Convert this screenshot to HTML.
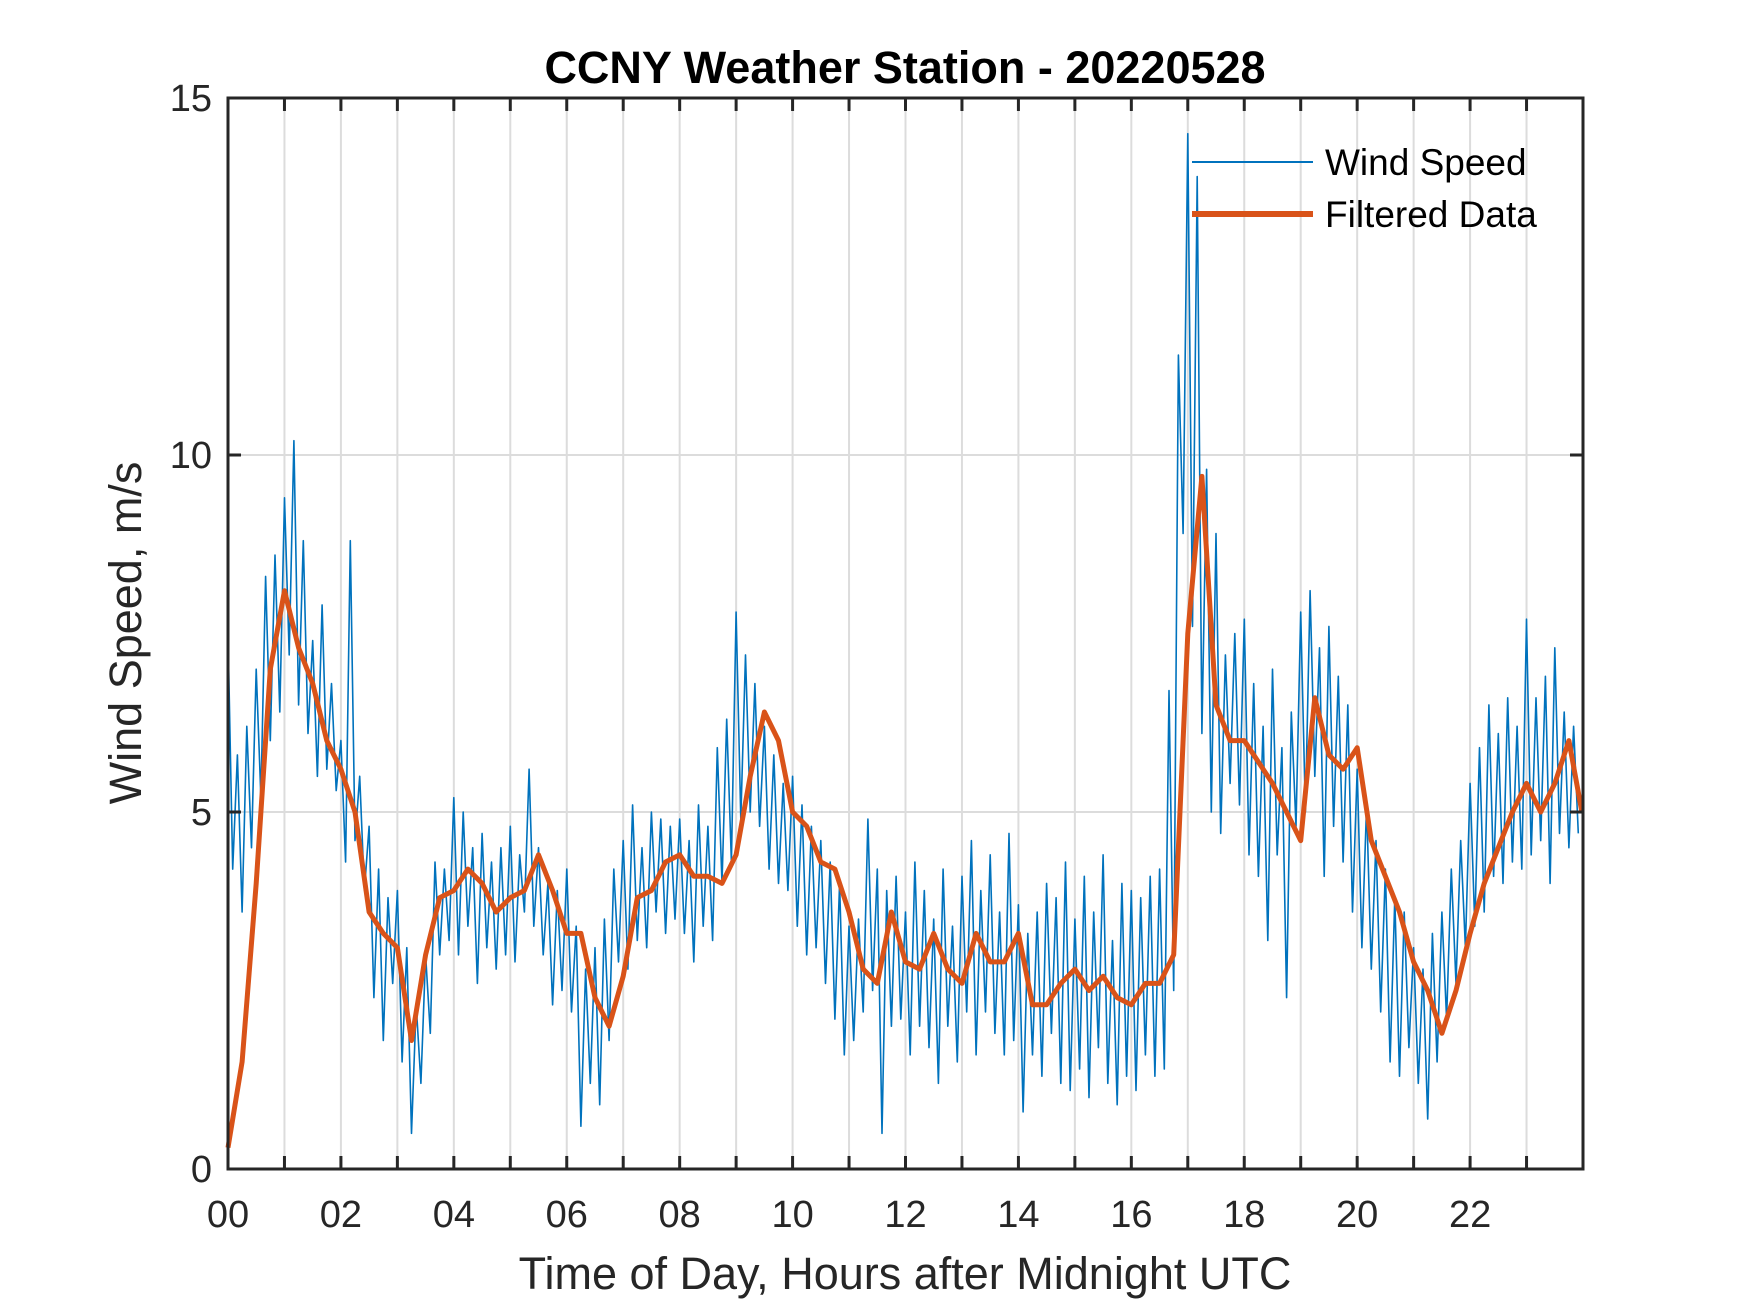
<!DOCTYPE html>
<html><head><meta charset="utf-8"><style>
html,body{margin:0;padding:0;background:#fff;}
svg{display:block;font-family:"Liberation Sans",Arial,sans-serif;}
</style></head><body>
<svg id="chart" width="1750" height="1313" viewBox="0 0 1750 1313" xmlns="http://www.w3.org/2000/svg">
<rect width="1750" height="1313" fill="#fff"/>
<g id="grid"></g>
<g id="series"></g>
<g id="axes"></g>
<text x="905" y="83" text-anchor="middle" font-size="45" font-weight="bold" fill="#000">CCNY Weather Station - 20220528</text>
<text x="905" y="1289" text-anchor="middle" font-size="45" fill="#262626">Time of Day, Hours after Midnight UTC</text>
<text transform="translate(141,633) rotate(-90)" text-anchor="middle" font-size="45" fill="#262626">Wind Speed, m/s</text>
<g>
<line x1="1192" y1="162" x2="1313" y2="162" stroke="#0072BD" stroke-width="2"/>
<text x="1325" y="175" font-size="37" fill="#000">Wind Speed</text>
<line x1="1192" y1="214" x2="1313" y2="214" stroke="#D95319" stroke-width="6"/>
<text x="1325" y="227" font-size="37" fill="#000">Filtered Data</text>
</g>
</svg>
<script>
const rawValues = [
7.5,4.2,5.8,3.6,6.2,4.5,7.0,5.2,8.3,6.0,8.6,6.4,
9.4,7.2,10.2,6.5,8.8,6.1,7.4,5.5,7.9,5.6,6.8,5.3,
6.0,4.3,8.8,4.6,5.5,3.9,4.8,2.4,4.2,1.8,3.8,2.6,
3.9,1.5,3.1,0.5,2.3,1.2,3.0,1.9,4.3,3.0,4.2,3.2,
5.2,3.0,5.0,3.4,4.5,2.6,4.7,3.1,4.3,2.8,4.5,3.0,
4.8,2.9,4.4,3.6,5.6,3.4,4.5,3.0,4.0,2.3,3.9,2.5,
4.2,2.2,3.4,0.6,2.8,1.2,3.1,0.9,3.5,1.8,4.2,2.9,
4.6,2.8,5.1,3.2,4.5,3.1,5.0,3.6,4.9,3.3,4.8,3.5,
4.9,3.3,4.6,2.9,5.1,3.4,4.8,3.2,5.9,4.0,6.3,4.3,
7.8,4.9,7.2,5.0,6.8,4.8,6.2,4.2,5.8,4.0,5.4,3.9,
5.5,3.4,5.1,3.0,4.8,3.1,4.6,2.6,4.3,2.1,4.0,1.6,
3.4,1.8,3.5,2.2,4.9,2.5,4.2,0.5,3.9,2.0,4.1,2.1,
3.6,1.6,4.3,2.0,3.9,1.7,3.5,1.2,4.2,2.0,3.4,1.5,
4.1,2.2,4.6,1.6,3.9,2.2,4.4,1.9,3.6,1.6,4.7,1.8,
3.7,0.8,3.3,1.6,3.6,1.3,4.0,1.9,3.8,1.2,4.3,1.1,
3.5,1.4,4.1,1.0,3.6,1.7,4.4,1.2,3.2,0.9,4.0,1.3,
3.9,1.1,3.8,1.6,4.1,1.3,4.2,1.4,6.7,2.5,11.4,8.9,
14.5,7.6,13.9,6.1,9.8,5.0,8.9,4.7,7.2,5.4,7.5,5.1,
7.7,4.4,6.8,4.1,6.2,3.2,7.0,4.4,5.9,2.4,6.4,4.8,
7.8,5.0,8.1,5.5,7.3,4.1,7.6,4.8,6.9,4.3,6.5,3.6,
5.6,3.1,5.1,2.8,4.6,2.2,4.2,1.5,3.8,1.3,3.6,1.7,
3.1,1.2,2.8,0.7,3.3,1.5,3.6,2.1,4.2,2.6,4.6,3.1,
5.4,3.4,5.9,3.6,6.5,4.1,6.1,4.0,6.6,4.3,6.2,4.2,
7.7,4.4,6.6,4.6,6.9,4.0,7.3,4.7,6.4,4.5,6.2,4.7];
const filteredValues = [
0.3,1.5,4.0,7.0,8.1,7.3,6.8,6.0,5.6,5.0,3.6,3.3,3.1,1.8,3.0,3.8,
3.9,4.2,4.0,3.6,3.8,3.9,4.4,3.9,3.3,3.3,2.4,2.0,2.7,3.8,3.9,4.3,
4.4,4.1,4.1,4.0,4.4,5.5,6.4,6.0,5.0,4.8,4.3,4.2,3.6,2.8,2.6,3.6,
2.9,2.8,3.3,2.8,2.6,3.3,2.9,2.9,3.3,2.3,2.3,2.6,2.8,2.5,2.7,2.4,
2.3,2.6,2.6,3.0,7.5,9.7,6.5,6.0,6.0,5.7,5.4,5.0,4.6,6.6,5.8,5.6,
5.9,4.6,4.1,3.6,2.9,2.5,1.9,2.5,3.3,4.0,4.5,5.0,5.4,5.0,5.4,6.0,5.0];
const xTickLabels = ["00","02","04","06","08","10","12","14","16","18","20","22"];
const yTickValues = [0,5,10,15];

const NS="http://www.w3.org/2000/svg";
const L=228,R=1583,T=98,B=1169;
const xs=h=>L+(h/24)*(R-L);
const ys=v=>B-(v/15)*(B-T);
function mk(tag,attrs,parent){const e=document.createElementNS(NS,tag);for(const k in attrs)e.setAttribute(k,attrs[k]);parent.appendChild(e);return e;}
const grid=document.getElementById('grid'),axes=document.getElementById('axes'),series=document.getElementById('series');
for(let h=1;h<24;h++){const l=mk('line',{x1:xs(h),x2:xs(h),y1:T,y2:B,stroke:'#dcdcdc','stroke-width':2},grid);

}
yTickValues.forEach(v=>{if(v>0&&v<15){const l=mk('line',{x1:L,x2:R,y1:ys(v),y2:ys(v),stroke:'#dcdcdc','stroke-width':2},grid);

}});
let d='';rawValues.forEach((v,i)=>{const h=i*24/rawValues.length;d+=(i?'L':'M')+xs(h).toFixed(1)+' '+ys(v).toFixed(1);});
const raw=mk('path',{d:d,fill:'none',stroke:'#0072BD','stroke-width':1.6,'stroke-linejoin':'round'},series);


let d2='';filteredValues.forEach((v,i)=>{const h=Math.min(i*0.25,23.98);d2+=(i?'L':'M')+xs(h).toFixed(1)+' '+ys(v).toFixed(1);});
const filt=mk('path',{d:d2,fill:'none',stroke:'#D95319','stroke-width':5,'stroke-linejoin':'round'},series);


const box=mk('rect',{x:L,y:T,width:R-L,height:B-T,fill:'none',stroke:'#262626','stroke-width':3},axes);


for(let h=1;h<24;h++){mk('line',{x1:xs(h),x2:xs(h),y1:B,y2:B-13,stroke:'#262626','stroke-width':3},axes);mk('line',{x1:xs(h),x2:xs(h),y1:T,y2:T+13,stroke:'#262626','stroke-width':3},axes);}
xTickLabels.forEach((t,i)=>{const e=mk('text',{x:xs(i*2),y:1227,'text-anchor':'middle','font-size':38,fill:'#262626'},axes);e.textContent=t;

});
yTickValues.forEach(v=>{mk('line',{x1:L,x2:L+13,y1:ys(v),y2:ys(v),stroke:'#262626','stroke-width':3},axes);mk('line',{x1:R,x2:R-13,y1:ys(v),y2:ys(v),stroke:'#262626','stroke-width':3},axes);
const e=mk('text',{x:212,y:ys(v)+13,'text-anchor':'end','font-size':38,fill:'#262626'},axes);e.textContent=v;

});
</script>
</body></html>
